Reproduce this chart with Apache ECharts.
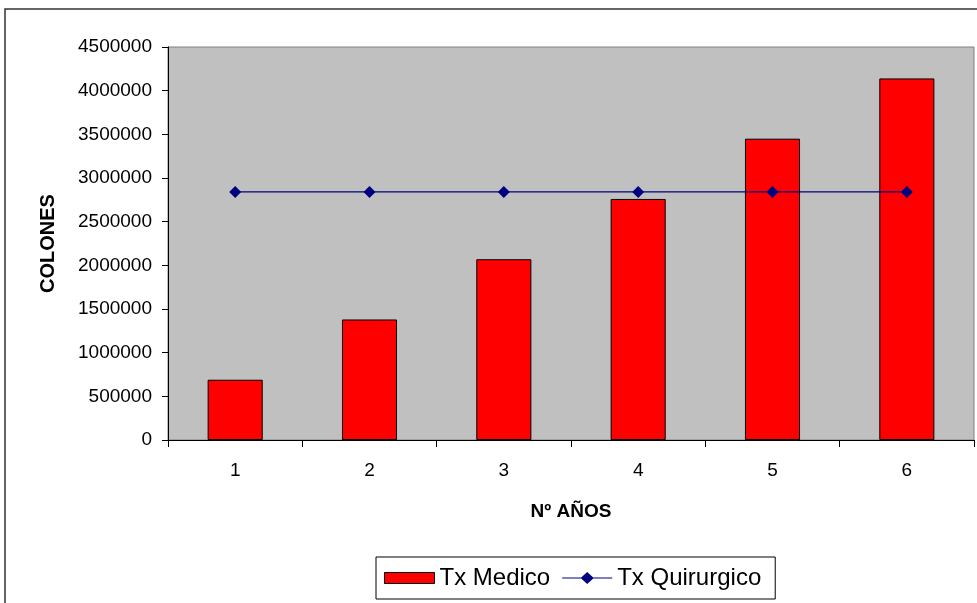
<!DOCTYPE html>
<html><head><meta charset="utf-8">
<script src="https://cdn.jsdelivr.net/npm/echarts@6/dist/echarts.min.js"></script>
<style>html,body{margin:0;padding:0;background:#fff}#c{width:977px;height:603px}</style>
</head><body><div id="c"></div>
<script>
const categories = ['1','2','3','4','5','6'];
const txMedico = [690000, 1380000, 2070000, 2760000, 3450000, 4140000];
const txQuirurgico = [2840000, 2840000, 2840000, 2840000, 2840000, 2840000];
const yMin = 0, yMax = 4500000, yStep = 500000;

const chart = echarts.init(document.getElementById('c'));
const font = 'Liberation Sans, Arial, sans-serif';
chart.setOption({
  animation: false,
  backgroundColor: '#fff',
  graphic: [{
    type: 'rect', shape: {x: 5, y: 9, width: 1200, height: 800},
    style: {fill: 'none', stroke: '#333', lineWidth: 1.5}, z: -1
  }],
  grid: {left: 168, top: 47, right: 3, bottom: 163, show: true,
    backgroundColor: '#c0c0c0', borderColor: '#808080', borderWidth: 1},
  legend: {
    left: 376, top: 557,
    padding: [9, 14, 9, 8], itemGap: 12,
    borderColor: '#000', borderWidth: 1, backgroundColor: '#fff', borderRadius: 0,
    itemWidth: 50, itemHeight: 12,
    textStyle: {fontFamily: font, fontSize: 24, color: '#000'},
    data: [
      {name: 'Tx Medico', icon: 'path://M0,0.5 L50,0.5 L50,11.5 L0,11.5 Z',
        itemStyle: {color: '#ff0000', borderColor: '#000', borderWidth: 1}},
      {name: 'Tx Quirurgico',
        icon: 'path://M0,5.4 L19,5.4 L25,0 L31,5.4 L50,5.4 L50,6.6 L31,6.6 L25,12 L19,6.6 L0,6.6 Z',
        itemStyle: {color: '#000080', borderWidth: 0}}
    ]
  },
  xAxis: {
    type: 'category', data: categories, boundaryGap: true,
    name: 'Nº AÑOS', nameLocation: 'middle', nameGap: 62,
    nameTextStyle: {fontFamily: font, fontSize: 19, fontWeight: 'bold', color: '#000', verticalAlign: 'top'},
    axisLine: {lineStyle: {color: '#000', width: 1}},
    axisTick: {show: true, length: 7, alignWithLabel: false, lineStyle: {color: '#000'}},
    axisLabel: {fontFamily: font, fontSize: 19, color: '#000', margin: 21},
    splitLine: {show: false}
  },
  yAxis: {
    type: 'value', min: yMin, max: yMax, interval: yStep,
    name: 'COLONES', nameLocation: 'middle', nameGap: 110,
    nameTextStyle: {fontFamily: font, fontSize: 20, fontWeight: 'bold', color: '#000'},
    axisLine: {show: true, lineStyle: {color: '#000', width: 1}},
    axisTick: {show: true, length: 6, lineStyle: {color: '#000'}},
    axisLabel: {fontFamily: font, fontSize: 19, color: '#000', margin: 16,
      formatter: v => String(v)},
    splitLine: {show: false}
  },
  series: [
    {name: 'Tx Medico', type: 'bar', data: txMedico, barWidth: '41%',
      itemStyle: {color: '#ff0000', borderColor: '#000', borderWidth: 1}},
    {name: 'Tx Quirurgico', type: 'line', data: txQuirurgico,
      symbol: 'diamond', symbolSize: 12,
      itemStyle: {color: '#000080'}, lineStyle: {color: '#000080', width: 1.2}, z: 5}
  ]
});
</script></body></html>
